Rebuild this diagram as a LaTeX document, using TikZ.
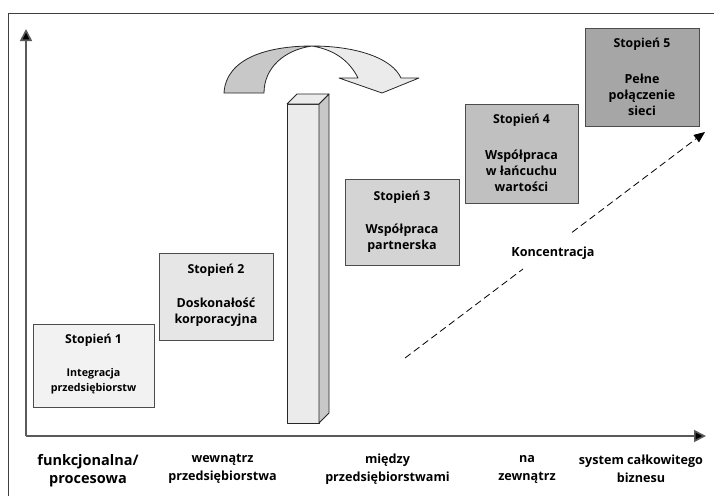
\documentclass[tikz,border=0pt]{standalone}
\usepackage{fontspec}
\setmainfont{Open Sans}
\usetikzlibrary{arrows.meta}

\definecolor{fillA}{HTML}{F2F2F2}
\definecolor{fillB}{HTML}{E6E6E6}
\definecolor{fillC}{HTML}{D4D4D4}
\definecolor{fillD}{HTML}{C0C0C0}
\definecolor{fillE}{HTML}{A6A6A6}
\definecolor{barlight}{HTML}{EBEBEB}
\definecolor{bardark}{HTML}{C8C8C8}
\definecolor{axisgray}{HTML}{5A5A5A}

\tikzset{
  stagebox/.style={draw=black!70, line width=0.9pt, inner sep=0pt},
  stagetitle/.style={font=\bfseries\fontsize{12.3}{14}\selectfont, inner sep=0pt},
  stagebody/.style={font=\bfseries\fontsize{12.5}{16}\selectfont, align=center, inner sep=0pt},
  axislabel/.style={font=\bfseries\fontsize{12.6}{18}\selectfont, align=center, inner sep=0pt},
  axisline/.style={draw=axisgray, line width=1.6pt, -{Triangle[length=12pt,width=12pt,fill=black]}},
  shapeline/.style={draw=black!85, line width=0.8pt, line join=round},
}

\begin{document}
\begin{tikzpicture}[x=1pt,y=-1pt]
\useasboundingbox (0,0) rectangle (714,496);

% frame
\draw[draw=black!75, line width=1pt] (8,496) -- (8,13) -- (714,13);

% axes
\coordinate (origin) at (26,436);
\coordinate (ytip) at (26,29);
\coordinate (xtip) at (706,436);
\draw[axisline] (origin) -- (ytip);
\draw[axisline] (origin) -- (xtip);

% upright bar (3D block)
\fill[barlight, shapeline] (287,104) -- (319,104) -- (319,423) -- (287,423) -- cycle;
\fill[bardark, shapeline] (319,104) -- (329,94) -- (329,413) -- (319,423) -- cycle;
\fill[barlight, shapeline] (287,104) -- (297,94) -- (329,94) -- (319,104) -- cycle;

% curved arrow over the bar
\filldraw[fill=bardark, shapeline] (224,93) .. controls (226,58) and (268,46) .. (312,46)
  .. controls (284,50) and (264,68) .. (264,93) -- cycle;
\filldraw[fill=barlight, shapeline] (312,46) .. controls (356,46) and (392,58) .. (401,78)
  -- (419,78) -- (382,93) -- (339,78) -- (358,78)
  .. controls (350,62) and (336,50) .. (312,46) -- cycle;

% stage boxes
\node[stagebox, fill=fillA, minimum width=121pt, minimum height=83pt] (box1) at (93.5,365.5) {};
\node[stagebox, fill=fillB, minimum width=114pt, minimum height=87pt] (box2) at (216,296.5) {};
\node[stagebox, fill=fillC, minimum width=114pt, minimum height=86pt] (box3) at (402,222) {};
\node[stagebox, fill=fillD, minimum width=113pt, minimum height=99pt] (box4) at (521.5,153.5) {};
\node[stagebox, fill=fillE, minimum width=114pt, minimum height=98pt] (box5) at (642,77) {};

\node[stagetitle] (t1) at (93.5,340) {Stopień 1};
\node[stagebody, font=\bfseries\fontsize{10.7}{15}\selectfont] (b1) at (93.5,381) {Integracja\\przedsiębiorstw};
\node[stagetitle] (t2) at (216,270) {Stopień 2};
\node[stagebody] (b2) at (216,312) {Doskonałość\\korporacyjna};
\node[stagetitle] (t3) at (402,197) {Stopień 3};
\node[stagebody] (b3) at (402,238) {Współpraca\\partnerska};
\node[stagetitle] (t4) at (521.5,120) {Stopień 4};
\node[stagebody] (b4) at (521.5,171) {Współpraca\\w łańcuchu\\wartości};
\node[stagetitle] (t5) at (642,44) {Stopień 5};
\node[stagebody] (b5) at (642,95) {Pełne\\połączenie\\sieci};

% concentration trend
\coordinate (cstart) at (405,358);
\coordinate (gapA) at (523,269);
\coordinate (gapB) at (572,232.4);
\coordinate (cend) at (705,132);
\draw[line width=0.8pt, dash pattern=on 7pt off 4pt] (cstart) -- (gapA);
\draw[line width=0.8pt, dash pattern=on 7pt off 4pt, -{Triangle[length=11pt,width=9pt]}] (gapB) -- (cend);
\node[font=\bfseries\fontsize{12.6}{13}\selectfont, inner sep=0pt] (conc) at (553,253) {Koncentracja};

% axis categories
\node[axislabel, font=\bfseries\fontsize{14.5}{18}\selectfont] (c1) at (88,471) {funkcjonalna/\\procesowa};
\node[axislabel] (c2) at (222.5,469) {wewnątrz\\przedsiębiorstwa};
\node[axislabel] (c3) at (387.5,469) {między\\przedsiębiorstwami};
\node[axislabel] (c4) at (527,469) {na\\zewnątrz};
\node[axislabel] (c5) at (641,469) {system całkowitego\\biznesu};
\end{tikzpicture}
\end{document}
